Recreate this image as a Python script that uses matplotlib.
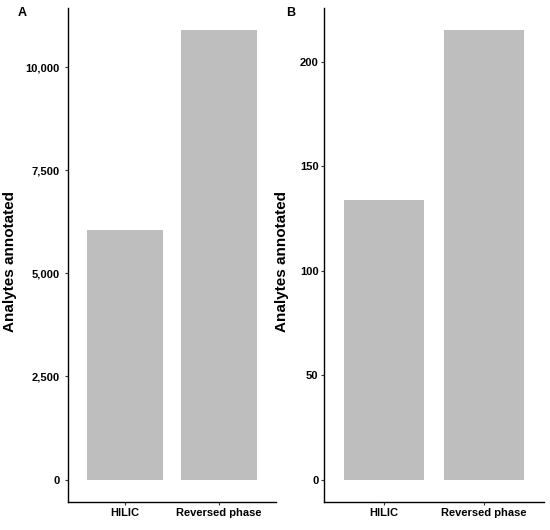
import matplotlib
matplotlib.use("Agg")
import matplotlib.pyplot as plt
from matplotlib.ticker import FuncFormatter

plt.rcParams['font.family'] = ['Liberation Sans', 'DejaVu Sans']

categories = ["HILIC", "Reversed phase"]
values_a = [6060, 10890]
values_b = [134, 215]
ticks_a = [0, 2500, 5000, 7500, 10000]
ticks_b = [0, 50, 100, 150, 200]
ylabel = "Analytes annotated"
panel_labels = ["A", "B"]

bar_color = "#bebebe"
W, H = 550, 530
fig = plt.figure(figsize=(W / 100, H / 100), dpi=100)

def fx(px):
    return px / W

def fy(px):
    return 1 - px / H

top, bottom = 8, 502
axA = fig.add_axes([fx(68.3), fy(bottom), fx(275.8 - 68.3), (bottom - top) / H])
axB = fig.add_axes([fx(323.7), fy(bottom), fx(543.7 - 323.7), (bottom - top) / H])

def style(ax, vals, ticks, pad, labx):
    x = list(range(1, len(categories) + 1))
    ax.bar(x, vals, width=0.8, color=bar_color, edgecolor="none")
    ax.set_xlim(0.4, len(categories) + 0.6)
    vmax = max(vals)
    ax.set_ylim(-0.05 * vmax, 1.05 * vmax)
    ax.set_xticks(x)
    ax.set_xticklabels(categories, fontsize=8, fontweight="bold", color="black")
    ax.set_yticks(ticks)
    ax.yaxis.set_major_formatter(FuncFormatter(lambda v, p: f"{int(v):,}"))
    for lab in ax.get_yticklabels():
        lab.set_fontweight("bold")
        lab.set_fontsize(8)
        lab.set_color("black")
    ax.tick_params(axis="y", length=2.4, width=0.8, color="#333333", pad=pad)
    ax.tick_params(axis="x", length=2.4, width=0.8, color="#333333", pad=2.0)
    for s in ["top", "right"]:
        ax.spines[s].set_visible(False)
    for s in ["left", "bottom"]:
        ax.spines[s].set_linewidth(1.0)
        ax.spines[s].set_color("black")
    ax.set_ylabel(ylabel, fontsize=11, fontweight="bold")
    ax.yaxis.set_label_coords(labx, 0.486)

style(axA, values_a, ticks_a, 4.0, (17.3 - 68.3) / (275.8 - 68.3))
style(axB, values_b, ticks_b, 1.3, (289 - 323.7) / (543.7 - 323.7))

fig.text(fx(22.5), fy(12.5), panel_labels[0], fontsize=9, fontweight="bold", ha="center", va="center")
fig.text(fx(291), fy(12.5), panel_labels[1], fontsize=9, fontweight="bold", ha="center", va="center")

fig.savefig("out.png", dpi=100)
